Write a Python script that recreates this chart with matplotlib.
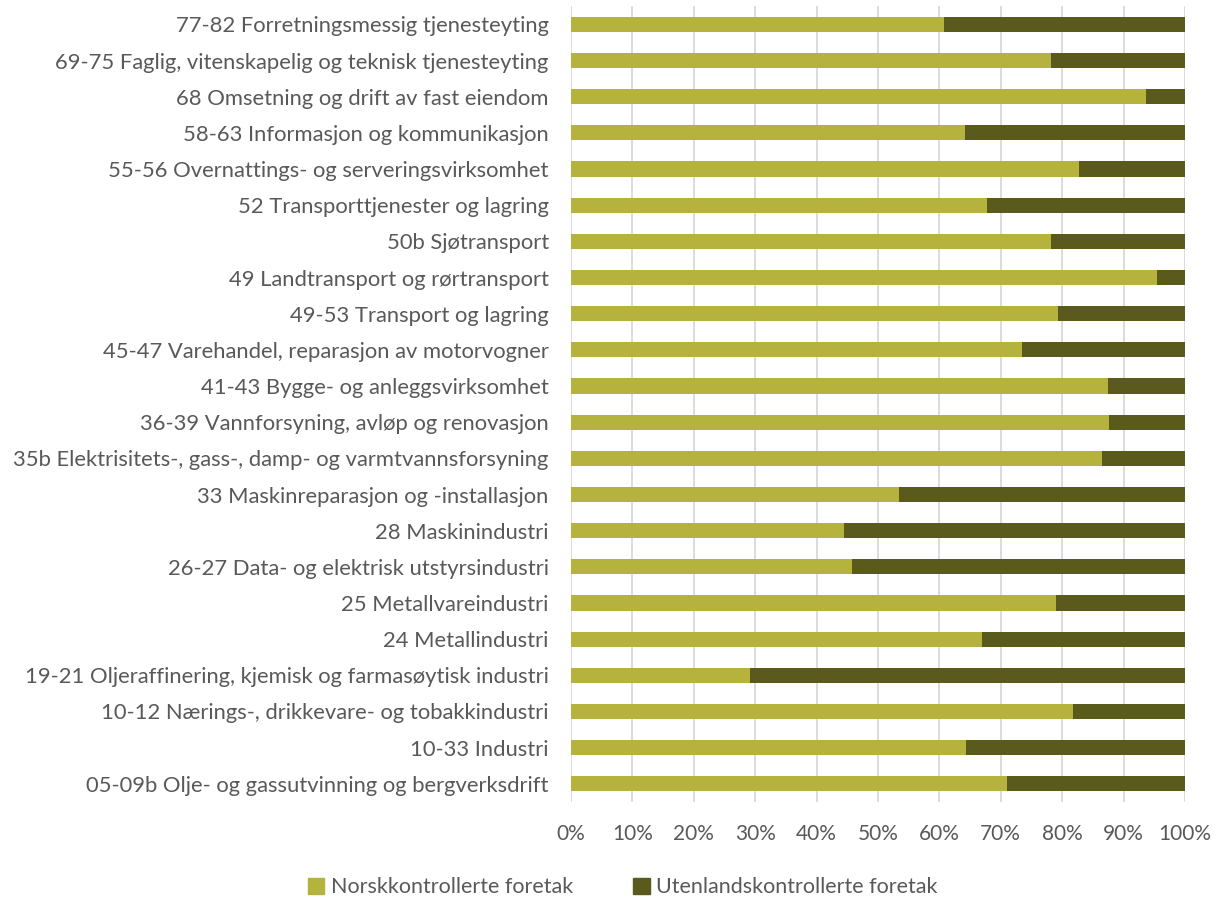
import numpy as np
import matplotlib.pyplot as plt
from matplotlib.patches import Patch

# categories, top to bottom as in the chart
categories = [
    "77-82 Forretningsmessig tjenesteyting",
    "69-75 Faglig, vitenskapelig og teknisk tjenesteyting",
    "68 Omsetning og drift av fast eiendom",
    "58-63 Informasjon og kommunikasjon",
    "55-56 Overnattings- og serveringsvirksomhet",
    "52 Transporttjenester og lagring",
    "50b Sjøtransport",
    "49 Landtransport og rørtransport",
    "49-53 Transport og lagring",
    "45-47 Varehandel, reparasjon av motorvogner",
    "41-43 Bygge- og anleggsvirksomhet",
    "36-39 Vannforsyning, avløp og renovasjon",
    "35b Elektrisitets-, gass-, damp- og varmtvannsforsyning",
    "33 Maskinreparasjon og -installasjon",
    "28 Maskinindustri",
    "26-27 Data- og elektrisk utstyrsindustri",
    "25 Metallvareindustri",
    "24 Metallindustri",
    "19-21 Oljeraffinering, kjemisk og farmasøytisk industri",
    "10-12 Nærings-, drikkevare- og tobakkindustri",
    "10-33 Industri",
    "05-09b Olje- og gassutvinning og bergverksdrift",
]

# share of norwegian controlled firms (%)
norsk = [60.8, 78.1, 93.6, 64.1, 82.7, 67.8, 78.1, 95.4, 79.3, 73.5, 87.4,
         87.7, 86.5, 53.5, 44.4, 45.7, 79.0, 66.9, 29.1, 81.8, 64.3, 71.0]
utenlandsk = [100 - v for v in norsk]

series_names = ["Norskkontrollerte foretak", "Utenlandskontrollerte foretak"]
xticks = np.arange(0, 101, 10)

c_light = "#B5B33D"
c_dark = "#5B5A1D"
txt = "#595959"

plt.rcParams['font.family'] = ['Lato', 'DejaVu Sans']

fig = plt.figure(figsize=(12.19, 9.01), dpi=100)
ax = fig.add_axes([0.4684, 0.110, 0.5037, 0.883])

y = np.arange(len(categories))
ax.barh(y, norsk, height=0.42, color=c_light, zorder=2)
ax.barh(y, utenlandsk, left=norsk, height=0.42, color=c_dark, zorder=2)

ax.set_ylim(len(categories) - 0.5, -0.5)
ax.set_xlim(0, 100)
ax.set_yticks(y)
ax.set_yticklabels(categories, fontsize=15.8, color=txt)
ax.set_xticks(xticks)
ax.set_xticklabels([f"{v}%" for v in xticks], fontsize=15, color=txt)
ax.tick_params(axis='both', length=0)
ax.tick_params(axis='y', pad=16)
ax.tick_params(axis='x', pad=16)
ax.xaxis.grid(True, color="#D9D9D9", linewidth=1.3, zorder=0)
ax.set_axisbelow(True)
for s in ax.spines.values():
    s.set_visible(False)

handles = [Patch(color=c_light), Patch(color=c_dark)]
fig.legend(handles, series_names, loc='center', bbox_to_anchor=(0.511, 0.015),
           ncol=2, frameon=False, fontsize=15.5, labelcolor=txt,
           handlelength=0.75, handleheight=0.75, handletextpad=0.3,
           columnspacing=2.8)

fig.savefig("out.png", dpi=100, facecolor="white")
